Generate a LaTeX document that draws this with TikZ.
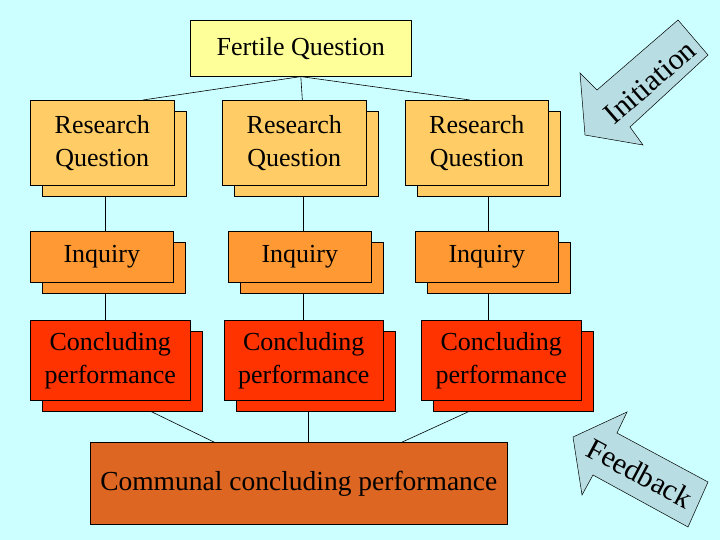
\documentclass[tikz,border=0pt]{standalone}
\usepackage{fontspec}
\newfontfamily\tms{Liberation Serif}
\definecolor{bg}{HTML}{CCFFFF}
\definecolor{fq}{HTML}{FFFF99}
\definecolor{rq}{HTML}{FFCC66}
\definecolor{inq}{HTML}{FF9933}
\definecolor{con}{HTML}{FF3300}
\definecolor{com}{HTML}{DD6622}
\definecolor{arr}{HTML}{B8DDE3}
\tikzset{
  box/.style={draw=black, line width=0.6pt, inner sep=0pt, align=center, font=\tms\fontsize{26}{33}\selectfont},
  lnk/.style={draw=black, line width=0.6pt},
  bigarrow/.style={draw=black, fill=arr, line width=0.5pt},
  atext/.style={font=\tms\fontsize{30}{32}\selectfont}
}
\newcommand{\dbox}[7]{% name, x1,y1,x2,y2, color, text
  \fill[#6,draw=black,line width=0.6pt] (#2+12,#3+11) rectangle (#4+12,#5+11);
  \node[box, fill=#6, minimum width=#4-#2, minimum height=#5-#3, anchor=north west] (#1) at (#2,#3) {#7};
}
\begin{document}
\begin{tikzpicture}[x=1pt,y=-1pt]
\fill[bg] (0,0) rectangle (720,540);
\useasboundingbox (0,0) rectangle (720,540);
\node[box, fill=fq, minimum width=221, minimum height=56, anchor=north west] (fq) at (190,20) {Fertile Question};
\coordinate (r1t) at (143,100); \coordinate (r2t) at (303,110); \coordinate (r3t) at (470,100);
\draw[lnk] (fq.south) -- (r1t);
\draw[lnk] (fq.south) -- (r2t);
\draw[lnk] (fq.south) -- (r3t);
\draw[lnk] (105,196) -- (105,240);
\draw[lnk] (303,196) -- (303,240);
\draw[lnk] (488,196) -- (488,240);
\draw[lnk] (105,292) -- (105,330);
\draw[lnk] (303,292) -- (303,330);
\draw[lnk] (488,292) -- (488,330);
\draw[lnk] (150,411) -- (218,444);
\draw[lnk] (308,411) -- (308,444);
\draw[lnk] (470,411) -- (398,444);
\dbox{r1}{30}{100}{174}{185}{rq}{Research\\ Question}
\dbox{r2}{222}{100}{366}{185}{rq}{Research\\ Question}
\dbox{r3}{405}{100}{548}{185}{rq}{Research\\ Question}
\dbox{i1}{30}{231}{173}{282}{inq}{Inquiry}
\dbox{i2}{228}{231}{371}{282}{inq}{Inquiry}
\dbox{i3}{415}{231}{558}{282}{inq}{Inquiry}
\dbox{c1}{30}{320}{190}{400}{con}{Concluding\\ performance}
\dbox{c2}{224}{320}{383}{400}{con}{Concluding\\ performance}
\dbox{c3}{421}{320}{581}{400}{con}{Concluding\\ performance}
\node[box, fill=com, minimum width=417, minimum height=82, anchor=north west, font=\tms\fontsize{27.5}{33}\selectfont] (cc) at (90,442) {Communal concluding performance};
\draw[bigarrow] (678,20) -- (708,55) -- (630,127) -- (643,145) -- (585,135) -- (580,73) -- (597,90) -- cycle;
\node[rotate=41, atext] (ini) at (650,82) {Initiation};
\draw[bigarrow] (573,437) -- (627,412) -- (617,433) -- (708,482) -- (688,527) -- (593,475) -- (582,495) -- cycle;
\node[rotate=-28, atext] (fb) at (640,473) {Feedback};
\end{tikzpicture}
\end{document}
